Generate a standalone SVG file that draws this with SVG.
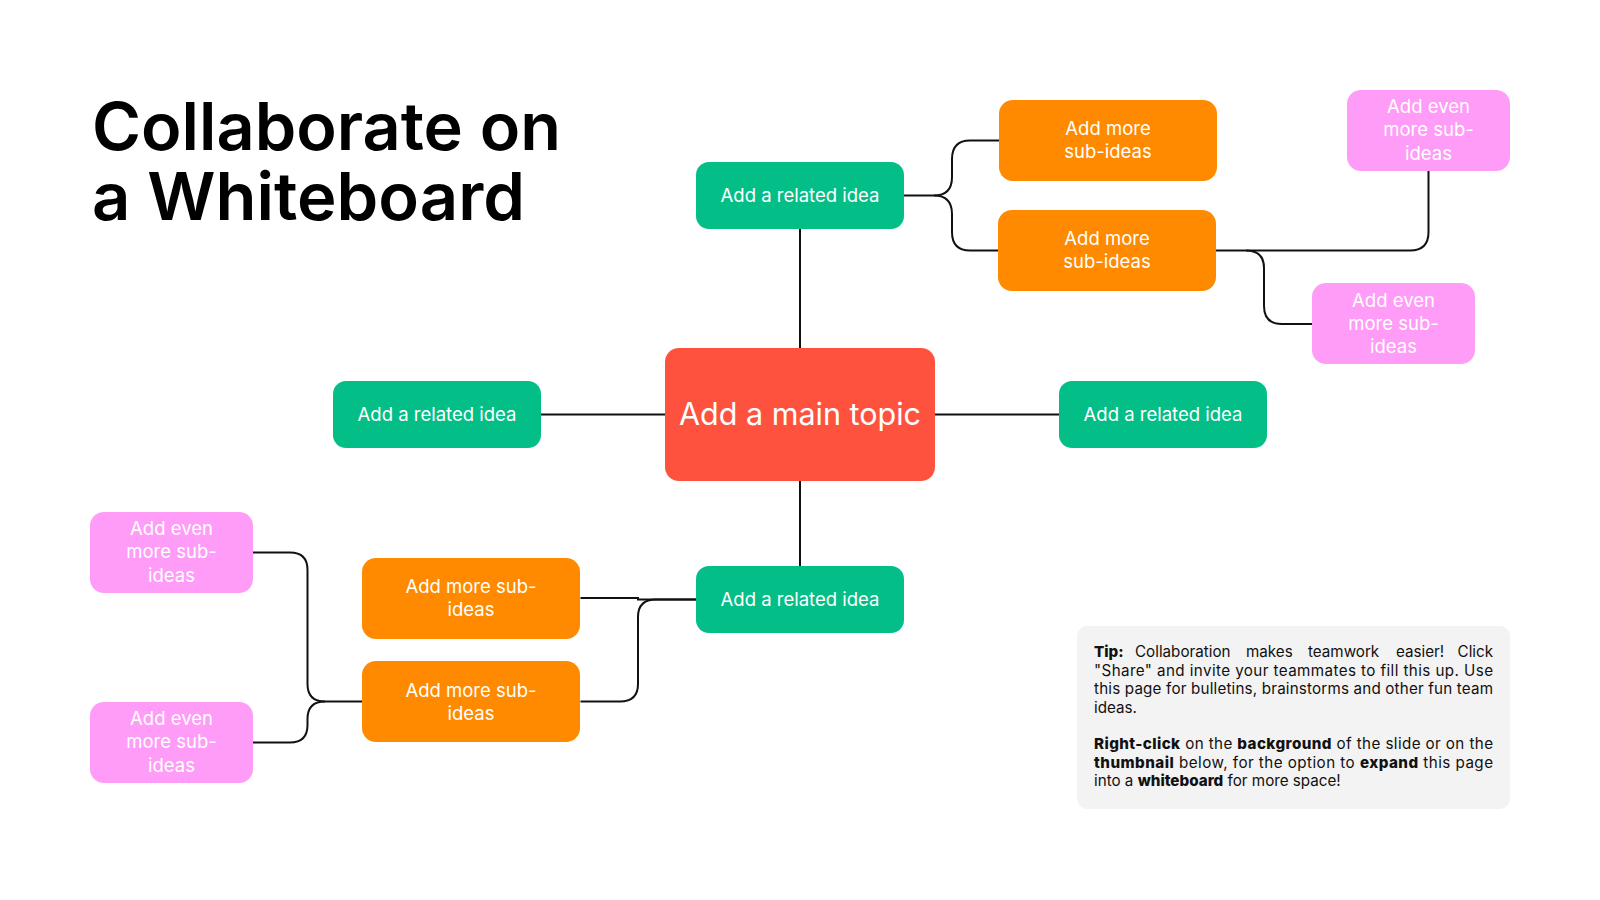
<svg xmlns="http://www.w3.org/2000/svg" width="1600" height="900" viewBox="0 0 1600 900">
<style>
.title{font-family:Inter,"Liberation Sans",Arial,sans-serif;font-weight:600;font-size:66px;fill:#000}
.lbl{font-family:Inter,"Liberation Sans",sans-serif;font-size:18.5px;fill:#fff;text-anchor:middle}
.main{font-family:Inter,"Liberation Sans",sans-serif;font-size:30.5px;fill:#fff;text-anchor:middle}
.green{fill:#04BE87}
.orange{fill:#FF8A00}
.pink{fill:#FF9CF8}
.red{fill:#FF523E}
.conn path{fill:none;stroke:#111;stroke-width:2}
.tip{font-family:Inter,"Liberation Sans",sans-serif;font-size:15.2px;fill:#111}
.b{font-weight:800}
</style>
<rect width="1600" height="900" fill="#fff"/>
<g id="title">
<text class="title"><tspan x="92" y="150" textLength="469" lengthAdjust="spacingAndGlyphs">Collaborate on</tspan><tspan x="92" y="220" textLength="433" lengthAdjust="spacingAndGlyphs">a Whiteboard</tspan></text>
</g>
<g class="conn" id="connectors">
<path d="M800,229 V348"/>
<path d="M800,481 V566"/>
<path d="M541,414.5 H665"/>
<path d="M935,414.5 H1059"/>
<path d="M904,195.5 H934 C946,195.5 952,189 952,177 V159 C952,147 958,140.5 970,140.5 H999"/>
<path d="M934,195.5 C946,195.5 952,202 952,214 V232 C952,244 958,250.5 970,250.5 H999"/>
<path d="M1216,250.5 H1410 Q1428.5,250.5 1428.5,232 V170"/>
<path d="M1246,250.5 Q1264,250.5 1264,268 V306 Q1264,324 1282,324 H1312"/>
<path d="M252.5,552.5 H290 Q307.5,552.5 307.5,570 V684 Q307.5,701.5 325,701.5 H362.5"/>
<path d="M252.5,742.5 H290 Q307.5,742.5 307.5,725 V719 Q307.5,701.5 325,701.5"/>
<path d="M580.5,598 H638 V599.5 H696"/>
<path d="M580.5,701.5 H620 Q638,701.5 638,684 V617 Q638,599.5 656,599.5 H696"/>
</g>
<g id="main-topic">
<rect class="red" x="665" y="348" width="270" height="133" rx="14"/>
<text class="main" x="800" y="425">Add a main topic</text>
</g>
<g id="idea-top">
<rect class="green" x="696" y="162" width="208" height="67" rx="13"/>
<text class="lbl" x="800" y="202">Add a related idea</text>
</g>
<g id="idea-left">
<rect class="green" x="333" y="381" width="208" height="67" rx="13"/>
<text class="lbl" x="437" y="421">Add a related idea</text>
</g>
<g id="idea-right">
<rect class="green" x="1059" y="381" width="208" height="67" rx="13"/>
<text class="lbl" x="1163" y="421">Add a related idea</text>
</g>
<g id="idea-bottom">
<rect class="green" x="696" y="566" width="208" height="67" rx="13"/>
<text class="lbl" x="800" y="606">Add a related idea</text>
</g>
<g id="sub-tr1">
<rect class="orange" x="999" y="100" width="218" height="81" rx="14"/>
<text class="lbl" x="1108" y="135">Add more</text>
<text class="lbl" x="1108" y="158">sub-ideas</text>
</g>
<g id="sub-tr2">
<rect class="orange" x="998" y="210" width="218" height="81" rx="14"/>
<text class="lbl" x="1107" y="245">Add more</text>
<text class="lbl" x="1107" y="268">sub-ideas</text>
</g>
<g id="sub-bl1">
<rect class="orange" x="362" y="558" width="218" height="81" rx="14"/>
<text class="lbl" x="471" y="593">Add more sub-</text>
<text class="lbl" x="471" y="616">ideas</text>
</g>
<g id="sub-bl2">
<rect class="orange" x="362" y="661" width="218" height="81" rx="14"/>
<text class="lbl" x="471" y="697">Add more sub-</text>
<text class="lbl" x="471" y="720">ideas</text>
</g>
<g id="even-tr">
<rect class="pink" x="1347" y="90" width="163" height="81" rx="14"/>
<text class="lbl" x="1428.5" y="113">Add even</text>
<text class="lbl" x="1428.5" y="136">more sub-</text>
<text class="lbl" x="1428.5" y="160">ideas</text>
</g>
<g id="even-mr">
<rect class="pink" x="1312" y="283" width="163" height="81" rx="14"/>
<text class="lbl" x="1393.5" y="307">Add even</text>
<text class="lbl" x="1393.5" y="330">more sub-</text>
<text class="lbl" x="1393.5" y="353">ideas</text>
</g>
<g id="even-bl1">
<rect class="pink" x="90" y="512" width="163" height="81" rx="14"/>
<text class="lbl" x="171.5" y="535">Add even</text>
<text class="lbl" x="171.5" y="558">more sub-</text>
<text class="lbl" x="171.5" y="582">ideas</text>
</g>
<g id="even-bl2">
<rect class="pink" x="90" y="702" width="163" height="81" rx="14"/>
<text class="lbl" x="171.5" y="725">Add even</text>
<text class="lbl" x="171.5" y="748">more sub-</text>
<text class="lbl" x="171.5" y="772">ideas</text>
</g>
<g id="tip">
<rect x="1077" y="626" width="433" height="183" rx="10" fill="#F3F3F3"/>
<text class="tip" y="657"><tspan class="b" x="1094">Tip:</tspan><tspan x="1135">Collaboration</tspan><tspan x="1246">makes</tspan><tspan x="1308">teamwork</tspan><tspan x="1396">easier!</tspan><tspan x="1493" text-anchor="end">Click</tspan></text>
<text class="tip" x="1094" y="676" textLength="399" lengthAdjust="spacing">"Share" and invite your teammates to fill this up. Use</text>
<text class="tip" x="1094" y="694" textLength="399" lengthAdjust="spacing">this page for bulletins, brainstorms and other fun team</text>
<text class="tip" x="1094" y="713">ideas.</text>
<text class="tip" x="1094" y="749" textLength="399" lengthAdjust="spacing"><tspan class="b">Right-click</tspan> on the <tspan class="b">background</tspan> of the slide or on the</text>
<text class="tip" x="1094" y="768" textLength="399" lengthAdjust="spacing"><tspan class="b">thumbnail</tspan> below, for the option to <tspan class="b">expand</tspan> this page</text>
<text class="tip" x="1094" y="786">into a <tspan class="b">whiteboard</tspan> for more space!</text>
</g>
</svg>
